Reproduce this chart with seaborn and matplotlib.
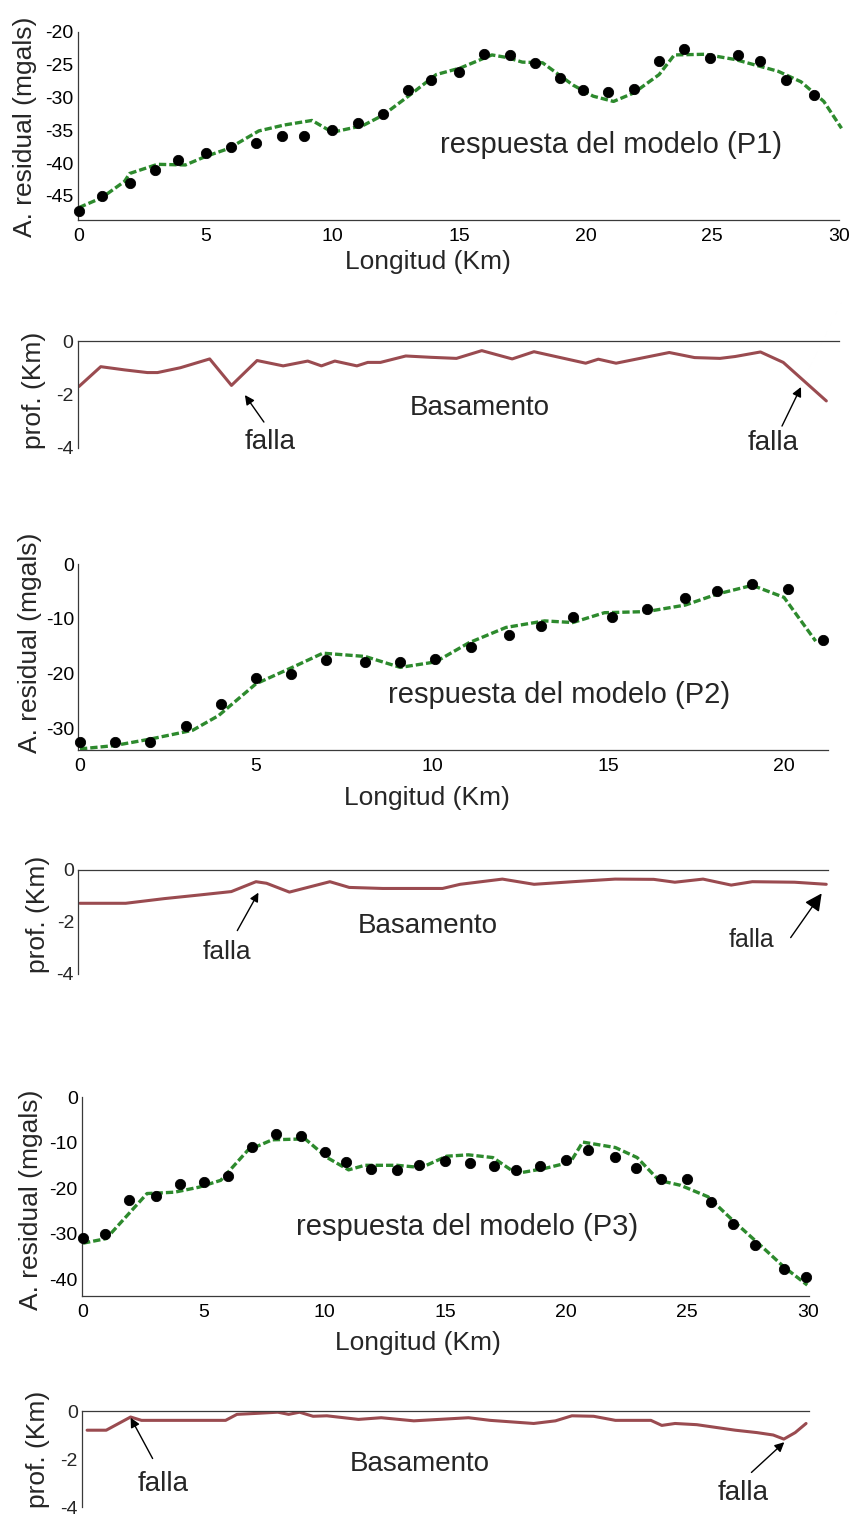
import matplotlib
matplotlib.use("Agg")
import matplotlib.pyplot as plt
import seaborn as sns

# ------------------------------------------------------------------ data
# Profile P1
p1_obs_x = [0, 0.9, 2, 3, 3.9, 5, 6, 7, 8, 8.9, 10, 11, 12, 13, 13.9, 15, 16, 17, 18, 19,
            19.9, 20.9, 21.9, 22.9, 23.9, 24.9, 26, 26.9, 27.9, 29]
p1_obs_y = [-47.4, -45.0, -43.0, -41.1, -39.5, -38.4, -37.6, -37.0, -35.9, -35.9, -34.9, -33.9,
            -32.5, -28.9, -27.4, -26.1, -23.3, -23.5, -24.7, -27.0, -28.9, -29.2, -28.7, -24.5,
            -22.6, -23.9, -23.5, -24.4, -27.4, -29.6]
p1_mod_x = [0, 0.9, 1.8, 2.0, 3.1, 4.2, 5.0, 5.9, 7.1, 8.1, 9.2, 10.0, 11.2, 12.0, 13.0, 14.1,
            15.05, 16.3, 16.9, 17.5, 18.3, 19.5, 20.3, 21.1, 21.9, 22.9, 23.5, 24.7, 25.9, 27.6,
            28.5, 29.4, 30.1]
p1_mod_y = [-46.8, -45.3, -42.8, -41.6, -40.2, -40.3, -39.0, -37.8, -35.1, -34.2, -33.5, -35.3,
            -34.3, -32.7, -29.8, -26.5, -25.5, -23.5, -23.9, -24.6, -24.7, -28.1, -29.8, -30.6,
            -29.3, -26.5, -23.5, -23.4, -24.2, -26.0, -27.6, -30.6, -34.7]
p1_bas_x = [0, 0.86, 1.8, 2.7, 3.1, 4.0, 5.16, 6.02, 7.03, 8.06, 9.03, 9.57, 10.1, 10.97, 11.4,
            11.9, 12.9, 13.9, 14.9, 15.9, 17.1, 17.96, 20.0, 20.5, 21.2, 23.3, 24.3, 25.3, 25.9,
            26.9, 27.8, 29.5]
p1_bas_y = [-1.70, -0.96, -1.08, -1.18, -1.18, -1.0, -0.67, -1.66, -0.73, -0.93, -0.75, -0.93,
            -0.75, -0.93, -0.80, -0.80, -0.56, -0.61, -0.65, -0.36, -0.67, -0.40, -0.83, -0.68,
            -0.83, -0.43, -0.62, -0.65, -0.58, -0.41, -0.80, -2.24]

# Profile P2
p2_obs_x = [0, 1, 2, 3, 4, 5, 6, 7, 8.1, 9.1, 10.1, 11.1, 12.2, 13.1, 14, 15.1, 16.1, 17.2,
            18.1, 19.1, 20.1, 21.1]
p2_obs_y = [-32.5, -32.5, -32.5, -29.6, -25.6, -20.9, -20.1, -17.5, -18.0, -18.0, -17.4, -15.2,
            -12.9, -11.4, -9.7, -9.7, -8.3, -6.2, -5.0, -3.6, -4.5, -13.9]
p2_mod_x = [0, 0.97, 2.0, 3.2, 3.94, 5.0, 6.1, 6.9, 8.1, 9.1, 10.1, 11.05, 12.1, 13.2, 14.0,
            14.9, 16.1, 17.2, 18.1, 19.1, 20.0, 20.9]
p2_mod_y = [-33.8, -33.2, -32.0, -30.4, -27.7, -21.9, -18.7, -16.3, -16.9, -18.9, -17.9, -14.4,
            -11.6, -10.4, -10.7, -8.9, -8.7, -7.5, -5.5, -3.9, -6.1, -14.1]
p2_bas_x = [0, 1.3, 2.4, 3.4, 4.3, 5.0, 5.3, 5.95, 7.1, 7.65, 8.6, 10.3, 10.8, 12.0, 12.9, 14.0,
            15.2, 16.3, 16.9, 17.7, 18.5, 19.1, 20.3, 21.2]
p2_bas_y = [-1.28, -1.28, -1.1, -0.96, -0.83, -0.45, -0.51, -0.85, -0.45, -0.67, -0.71, -0.71,
            -0.55, -0.35, -0.55, -0.45, -0.35, -0.36, -0.47, -0.35, -0.58, -0.45, -0.47, -0.55]

# Profile P3
p3_obs_x = [0, 0.9, 1.9, 3, 4, 5, 6, 7, 8, 9, 10, 10.9, 11.9, 13, 13.9, 15, 16, 17, 17.9, 18.9,
            20, 20.9, 22, 22.9, 23.9, 25, 26, 26.9, 27.8, 29, 29.9]
p3_obs_y = [-30.9, -30.1, -22.7, -21.7, -19.2, -18.7, -17.3, -10.9, -8.1, -8.6, -12.1, -14.3,
            -15.8, -16.1, -14.9, -14.1, -14.4, -15.1, -16.0, -15.1, -13.8, -11.6, -13.2, -15.6,
            -17.9, -17.9, -23.1, -27.8, -32.5, -37.8, -39.6]
p3_mod_x = [0, 0.96, 2.65, 3.06, 3.79, 4.8, 5.7, 6.82, 7.83, 9.19, 10.1, 10.99, 11.66, 13.0,
            14.0, 15.05, 15.95, 16.96, 17.93, 19.1, 20.17, 20.68, 22.03, 22.93, 23.83, 24.73,
            25.86, 26.87, 28.1, 29.0, 29.97]
p3_mod_y = [-32.1, -31.1, -21.2, -21.1, -20.9, -19.8, -18.3, -11.7, -9.4, -9.2, -13.3, -16.0,
            -15.0, -15.0, -15.5, -13.0, -12.7, -13.3, -16.8, -15.7, -14.3, -9.9, -11.1, -13.3,
            -18.3, -19.4, -21.9, -27.0, -32.9, -37.3, -41.3]
p3_bas_x = [0.17, 0.96, 1.97, 2.42, 5.9, 6.37, 7.16, 8.06, 8.51, 8.96, 9.52, 10.09, 11.4, 12.34,
            13.69, 15.95, 16.85, 18.65, 19.55, 20.23, 21.13, 22.03, 23.5, 23.95, 24.5, 25.4,
            26.3, 26.99, 27.89, 28.56, 29.0, 29.47, 29.92]
p3_bas_y = [-0.8, -0.8, -0.25, -0.39, -0.39, -0.14, -0.1, -0.05, -0.14, -0.05, -0.22, -0.2,
            -0.35, -0.28, -0.41, -0.28, -0.39, -0.52, -0.41, -0.2, -0.22, -0.39, -0.39, -0.6,
            -0.52, -0.57, -0.7, -0.8, -0.9, -1.0, -1.17, -0.9, -0.52]

# ticks / labels
p1_xticks = [0, 5, 10, 15, 20, 25, 30]
p1_yticks = [-20, -25, -30, -35, -40, -45]
p2_xticks = [0, 5, 10, 15, 20]
p2_yticks = [0, -10, -20, -30]
p3_xticks = [0, 5, 10, 15, 20, 25, 30]
p3_yticks = [0, -10, -20, -30, -40]
bas_yticks = [0, -1, -2, -3, -4]
bas_yticklabels = ["0", "", "-2", "", "-4"]

anom_label = "A. residual (mgals)"
bas_label = "prof. (Km)"
x_label = "Longitud (Km)"
model_texts = ["respuesta del modelo (P1)", "respuesta del modelo (P2)", "respuesta del modelo (P3)"]

# ------------------------------------------------------------------ style
sns.set_style("white")
plt.rcParams["font.family"] = ["Liberation Sans", "DejaVu Sans"]
plt.rcParams["axes.unicode_minus"] = False

GREEN = "#2d8a2d"
BROWN = "#9a4b50"
AXC = "#3a3a3a"

W, H = 854, 1518
fig = plt.figure(figsize=(W / 100, H / 100), dpi=100)
fig.patch.set_facecolor("white")


def add_ax(x0, x1, y0, y1):
    ax = fig.add_axes([x0 / W, 1 - y1 / H, (x1 - x0) / W, (y1 - y0) / H])
    ax.set_facecolor("none")
    return ax, (x0, x1, y0, y1)


def lab_coords(rect, px, py):
    x0, x1, y0, y1 = rect
    return (px - x0) / (x1 - x0), (y1 - py) / (y1 - y0)


def style_anom(ax, rect, xlim, ylim, xt, yt, ylab_xy, xlab_xy, extra_minor=None):
    ax.set_xlim(*xlim)
    ax.set_ylim(*ylim)
    for s in ["top", "right"]:
        ax.spines[s].set_visible(False)
    for s in ["left", "bottom"]:
        ax.spines[s].set_color(AXC)
        ax.spines[s].set_linewidth(0.9)
    ax.set_xticks(xt)
    ax.set_yticks(yt)
    ax.set_xticklabels([str(v) for v in xt])
    ax.set_yticklabels([str(v) for v in yt])
    ax.tick_params(direction="in", length=7, width=0.9, color=AXC, labelsize=14,
                   labelcolor="black")
    ax.tick_params(axis="x", pad=6)
    ax.tick_params(axis="y", pad=3)
    if extra_minor is not None:
        ax.set_xticks(extra_minor, minor=True)
        ax.tick_params(axis="x", which="minor", direction="in", length=7, width=0.9, color=AXC)
    ax.set_ylabel(anom_label, fontsize=19, va="center")
    ax.yaxis.set_label_coords(*lab_coords(rect, *ylab_xy))
    ax.set_xlabel(x_label, fontsize=19, va="center")
    ax.xaxis.set_label_coords(*lab_coords(rect, *xlab_xy))
    ax.grid(False)


def style_bas(ax, rect, xlim, ylab_xy):
    ax.set_xlim(*xlim)
    ax.set_ylim(-4, 0)
    for s in ["bottom", "right"]:
        ax.spines[s].set_visible(False)
    for s in ["left", "top"]:
        ax.spines[s].set_color(AXC)
        ax.spines[s].set_linewidth(0.9)
    ax.set_xticks([])
    ax.set_yticks(bas_yticks)
    ax.set_yticklabels(bas_yticklabels)
    ax.tick_params(axis="y", direction="in", length=7, width=0.9, color=AXC, labelsize=14,
                   pad=3)
    ax.set_xlabel("")
    ax.set_ylabel(bas_label, fontsize=19, va="center")
    ax.yaxis.set_label_coords(*lab_coords(rect, *ylab_xy))
    ax.grid(False)


def draw_anom(ax, ox, oy, mx, my):
    sns.lineplot(x=mx, y=my, ax=ax, color=GREEN, linewidth=2.4, linestyle=(0, (2.2, 0.9)),
                 sort=False, estimator=None, zorder=2, clip_on=False)
    sns.scatterplot(x=ox, y=oy, ax=ax, color="black", edgecolor="black", s=55, zorder=3,
                    clip_on=False)


def draw_bas(ax, bx, by):
    sns.lineplot(x=bx, y=by, ax=ax, color=BROWN, linewidth=2.2, sort=False, estimator=None,
                 zorder=2)


def arrow(ax, head, tail, ms=14):
    ax.annotate("", xy=head, xytext=tail,
                arrowprops=dict(arrowstyle="-|>", color="black", lw=1.0,
                                mutation_scale=ms, shrinkA=0, shrinkB=0))


# ------------------------------------------------------------------ P1
ax1, r1 = add_ax(77.7, 839, 32, 220)
draw_anom(ax1, p1_obs_x, p1_obs_y, p1_mod_x, p1_mod_y)
style_anom(ax1, r1, (-0.05, 30), (-48.7, -20), p1_xticks, p1_yticks, (25, 127), (428, 262))
ax1.text(21.0, -37.2, model_texts[0], fontsize=21, ha="center", va="center")

ax1b, r1b = add_ax(77.7, 839, 341, 448)
draw_bas(ax1b, p1_bas_x, p1_bas_y)
style_bas(ax1b, r1b, (-0.05, 30), (34, 390))
ax1b.text(15.8, -2.5, "Basamento", fontsize=20, ha="center", va="center")
ax1b.text(7.54, -3.78, "falla", fontsize=20, ha="center", va="center")
ax1b.text(27.4, -3.81, "falla", fontsize=20, ha="center", va="center")
arrow(ax1b, (6.55, -2.02), (7.3, -3.03))
arrow(ax1b, (28.5, -1.72), (27.75, -3.18))

# ------------------------------------------------------------------ P2
ax2, r2 = add_ax(78.2, 828, 564, 750)
draw_anom(ax2, p2_obs_x, p2_obs_y, p2_mod_x, p2_mod_y)
style_anom(ax2, r2, (-0.05, 21.25), (-34, 0), p2_xticks, p2_yticks, (30, 643), (427, 798),
           extra_minor=[21.2])
ax2.text(13.6, -24.0, model_texts[1], fontsize=21, ha="center", va="center")

ax2b, r2b = add_ax(78.2, 828, 870, 974)
draw_bas(ax2b, p2_bas_x, p2_bas_y)
style_bas(ax2b, r2b, (-0.05, 21.25), (38, 914))
ax2b.text(9.88, -2.15, "Basamento", fontsize=20, ha="center", va="center")
ax2b.text(4.18, -3.15, "falla", fontsize=19, ha="center", va="center")
ax2b.text(19.08, -2.69, "falla", fontsize=18, ha="center", va="center")
arrow(ax2b, (5.07, -0.87), (4.47, -2.33), ms=13)
arrow(ax2b, (21.07, -0.9), (20.19, -2.6), ms=26)

# ------------------------------------------------------------------ P3
ax3, r3 = add_ax(81.8, 809.2, 1097, 1296)
draw_anom(ax3, p3_obs_x, p3_obs_y, p3_mod_x, p3_mod_y)
style_anom(ax3, r3, (-0.05, 30.05), (-43.7, 0), p3_xticks, p3_yticks, (31, 1200), (418, 1343))
ax3.text(15.9, -28.6, model_texts[2], fontsize=21, ha="center", va="center")

ax3b, r3b = add_ax(81.8, 809.2, 1411, 1507)
draw_bas(ax3b, p3_bas_x, p3_bas_y)
style_bas(ax3b, r3b, (-0.05, 30.05), (38, 1449))
ax3b.text(13.92, -2.21, "Basamento", fontsize=20, ha="center", va="center")
ax3b.text(3.33, -3.06, "falla", fontsize=20, ha="center", va="center")
ax3b.text(27.33, -3.4, "falla", fontsize=20, ha="center", va="center")
arrow(ax3b, (1.97, -0.28), (2.88, -1.98))
arrow(ax3b, (29.02, -1.3), (27.66, -2.56))

fig.savefig("out.png", dpi=100, facecolor="white")
